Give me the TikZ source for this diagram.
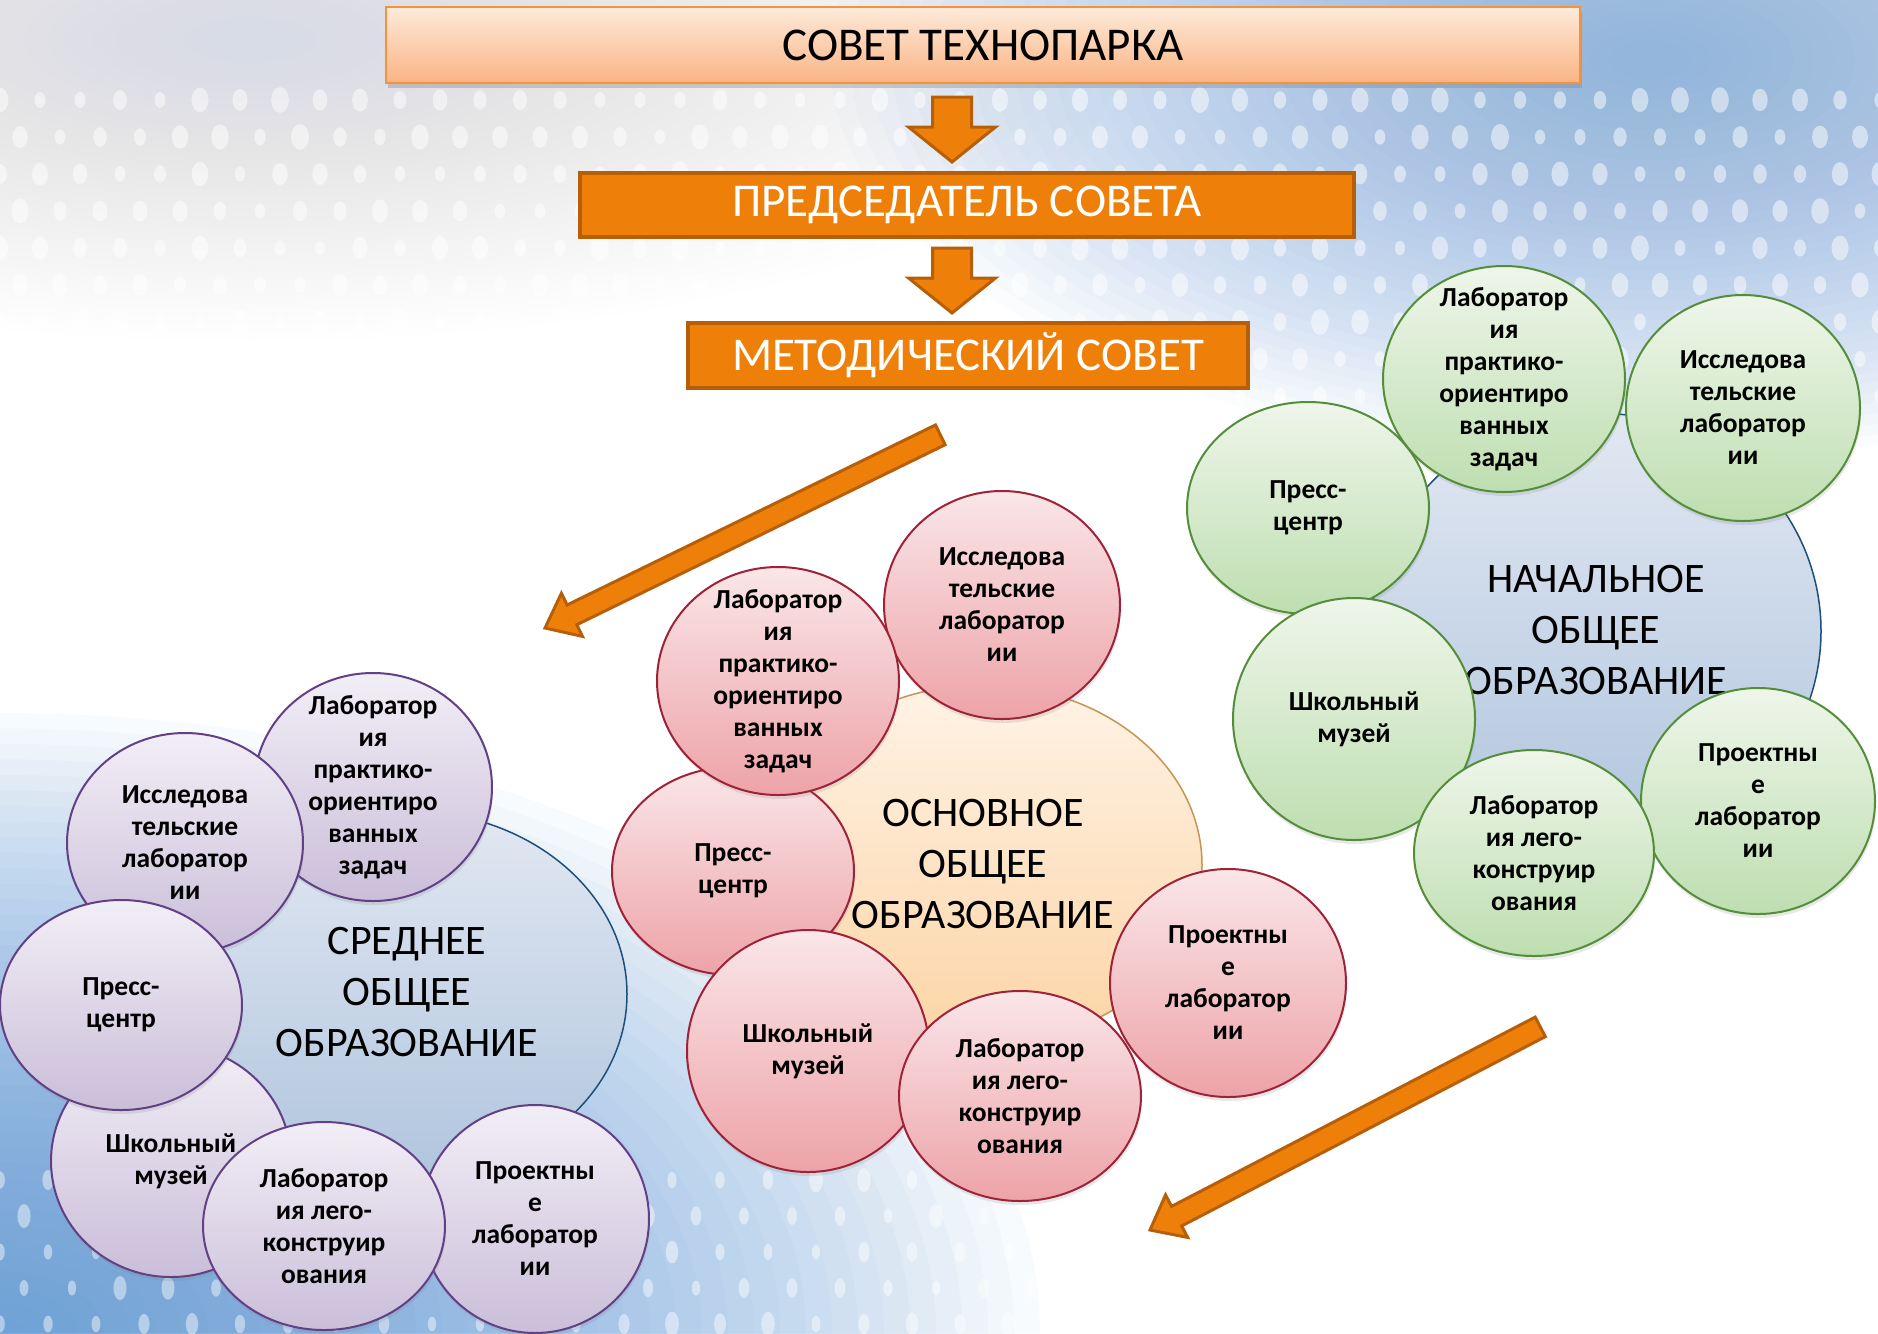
\documentclass[tikz,border=0pt]{standalone}
\usepackage{fontspec}
\setmainfont{Carlito}
\usetikzlibrary{shapes.geometric,shadows}
\definecolor{orF}{RGB}{238,128,10}
\definecolor{orD}{RGB}{182,94,8}
\definecolor{topT}{RGB}{253,234,218}
\definecolor{topB}{RGB}{250,180,132}
\definecolor{topD}{RGB}{246,145,60}
\definecolor{puT}{RGB}{242,238,246}
\definecolor{puB}{RGB}{202,190,217}
\definecolor{puD}{RGB}{98,64,134}
\definecolor{piT}{RGB}{250,230,232}
\definecolor{piB}{RGB}{237,163,168}
\definecolor{piD}{RGB}{160,34,56}
\definecolor{grT}{RGB}{238,246,234}
\definecolor{grB}{RGB}{190,222,176}
\definecolor{grD}{RGB}{84,142,58}
\definecolor{blT}{RGB}{226,232,242}
\definecolor{blB}{RGB}{176,197,222}
\definecolor{blD}{RGB}{30,78,122}
\definecolor{peT}{RGB}{255,243,230}
\definecolor{peB}{RGB}{252,212,165}
\definecolor{peD}{RGB}{196,150,82}
\definecolor{bgA}{RGB}{122,166,220}
\definecolor{bgG}{RGB}{205,220,230}
\definecolor{bgL}{RGB}{80,145,215}
\tikzset{
  bub/.style={ellipse, inner sep=0pt, line width=2pt,
    drop shadow={opacity=0.18, shadow xshift=1pt, shadow yshift=-4pt}},
  pu/.style={bub, draw=puD, top color=puT, bottom color=puB},
  pi/.style={bub, draw=piD, top color=piT, bottom color=piB},
  gr/.style={bub, draw=grD, top color=grT, bottom color=grB},
  bigbl/.style={ellipse, inner sep=0pt, line width=1.5pt, draw=blD, top color=blT, bottom color=blB},
  bigpe/.style={ellipse, inner sep=0pt, line width=1.5pt, draw=peD, top color=peT, bottom color=peB},
  bt/.style={align=center, inner sep=0pt, font=\fontsize{27.5}{32}\selectfont\bfseries},
  gt/.style={align=center, inner sep=0pt, font=\fontsize{42}{51}\selectfont},
  topbox/.style={rectangle, inner sep=0pt, draw=topD, line width=2.5pt, top color=topT, bottom color=topB,
    font=\fontsize{47}{56}\selectfont,
    drop shadow={opacity=0.35, shadow xshift=2pt, shadow yshift=-5pt}},
  obox/.style={rectangle, inner sep=0pt, fill=orF, draw=orD, line width=4pt, text=white,
    font=\fontsize{47}{56}\selectfont},
  barrow/.style={fill=orF, draw=orD, line width=3pt, line join=miter},
}
\begin{document}
\begin{tikzpicture}[x=1pt, y=-1pt]
\useasboundingbox (0,0) rectangle (1878,1333);
% background: soft blobs built from stacked translucent ellipses
\fill[white] (0,0) rectangle (1878,1333);
\foreach \k in {1,...,40}{
  \fill[bgG, opacity=0.016] (250,40) ellipse ({22.5*\k} and {7.5*\k});
  \fill[bgA, opacity=0.03] (1650,60) ellipse ({20.5*\k} and {10*\k});
  \fill[bgL, opacity=0.035] (0,1333) ellipse ({26*\k} and {15.5*\k});
}
\pgfmathsetseed{7}
\foreach \r in {0,...,8}{\foreach \c in {0,...,47}{
  \pgfmathsetmacro\xx{\c*40+mod(\r,2)*20}
  \pgfmathsetmacro\yy{100+\r*37}
  \pgfmathsetmacro\aa{5+4*rnd}
  \fill[white,opacity=0.5] (\xx,\yy) ellipse ({\aa} and {\aa*1.45});
}}
\foreach \r in {0,...,4}{\foreach \c in {0,...,28}{
  \pgfmathsetmacro\xx{\c*48+mod(\r,2)*24}
  \pgfmathsetmacro\yy{1180+\r*36}
  \pgfmathsetmacro\aa{4+3*rnd}
  \fill[white,opacity=0.45] (\xx,\yy) ellipse ({\aa} and {\aa*1.8});
}}
% top hierarchy
\node[topbox, minimum width=1194pt, minimum height=76pt] (sovet) at (983,45) {СОВЕТ ТЕХНОПАРКА};
\node[obox, minimum width=774pt, minimum height=64pt] (pred) at (967,205) {ПРЕДСЕДАТЕЛЬ СОВЕТА};
\node[obox, minimum width=560pt, minimum height=65pt] (metod) at (968,355.5) {МЕТОДИЧЕСКИЙ СОВЕТ};
\coordinate (d1) at (952,97);
\coordinate (d2) at (952,248);
\draw[barrow] (d1) ++(-19.5,0) -- ++(39,0) -- ++(0,30) -- ++(24,0) -- ++(-43.5,35) -- ++(-43.5,-35) -- ++(24,0) -- cycle;
\draw[barrow] (d2) ++(-19.5,0) -- ++(39,0) -- ++(0,30) -- ++(24,0) -- ++(-43.5,35) -- ++(-43.5,-35) -- ++(24,0) -- cycle;
% diagonal arrows
\coordinate (t1) at (545,628);
\coordinate (t2) at (1150,1230);
\begin{scope}[shift={(t1)}, rotate=26.04]
\draw[barrow] (0,0) -- (30,24) -- (30,11) -- (440,11) -- (440,-11) -- (30,-11) -- (30,-24) -- cycle;
\end{scope}
\begin{scope}[shift={(t2)}, rotate=27.5]
\draw[barrow] (0,0) -- (30,24) -- (30,11) -- (440,11) -- (440,-11) -- (30,-11) -- (30,-24) -- cycle;
\end{scope}
% ===== left cluster =====
\node[bigbl, minimum width=438pt, minimum height=366pt] (L0) at (408,994) {};
\node[gt] (L0t) at (407,992) {СРЕДНЕЕ\\ОБЩЕЕ\\ОБРАЗОВАНИЕ};
\node[pu, minimum width=238pt, minimum height=228pt] (L1) at (373,787) {};
\node[bt] at (L1) {Лаборатор\\ия\\практико-\\ориентиро\\ванных\\задач};
\node[pu, minimum width=236pt, minimum height=220pt] (L2) at (185,843) {};
\node[bt] at (L2) {Исследова\\тельские\\лаборатор\\ии};
\node[pu, minimum width=240pt, minimum height=232pt] (L4) at (171,1161) {};
\node[bt] at (L4) {Школьный\\музей};
\node[pu, minimum width=242pt, minimum height=210pt] (L3) at (121,1005) {};
\node[bt] at (L3) {Пресс-\\центр};
\node[pu, minimum width=228pt, minimum height=228pt] (L6) at (535,1219) {};
\node[bt] at (L6) {Проектны\\е\\лаборатор\\ии};
\node[pu, minimum width=242pt, minimum height=208pt] (L5) at (324,1226) {};
\node[bt] at (L5) {Лаборатор\\ия лего-\\конструир\\ования};
% ===== middle cluster =====
\node[bigpe, minimum width=438pt, minimum height=360pt] (M0) at (983,865) {};
\node[gt] (M0t) at (983,864) {ОСНОВНОЕ\\ОБЩЕЕ\\ОБРАЗОВАНИЕ};
\node[pi, minimum width=236pt, minimum height=228pt] (M1) at (1002,605) {};
\node[bt] at (M1) {Исследова\\тельские\\лаборатор\\ии};
\node[pi, minimum width=242pt, minimum height=208pt] (M3) at (733,871) {};
\node[bt] at (M3) {Пресс-\\центр};
\node[pi, minimum width=242pt, minimum height=228pt] (M2) at (778,681) {};
\node[bt] at (M2) {Лаборатор\\ия\\практико-\\ориентиро\\ванных\\задач};
\node[pi, minimum width=242pt, minimum height=242pt] (M4) at (808,1051) {};
\node[bt] at (M4) {Школьный\\музей};
\node[pi, minimum width=236pt, minimum height=228pt] (M6) at (1228,983) {};
\node[bt] at (M6) {Проектны\\е\\лаборатор\\ии};
\node[pi, minimum width=242pt, minimum height=210pt] (M5) at (1020,1096) {};
\node[bt] at (M5) {Лаборатор\\ия лего-\\конструир\\ования};
% ===== right cluster =====
\node[bigbl, minimum width=450pt, minimum height=436pt] (R0) at (1596,631) {};
\node[gt] (R0t) at (1596,630) {НАЧАЛЬНОЕ\\ОБЩЕЕ\\ОБРАЗОВАНИЕ};
\node[gr, minimum width=242pt, minimum height=212pt] (R3) at (1308,508) {};
\node[bt] at (R3) {Пресс-\\центр};
\node[gr, minimum width=242pt, minimum height=226pt] (R1) at (1504,379) {};
\node[bt] at (R1) {Лаборатор\\ия\\практико-\\ориентиро\\ванных\\задач};
\node[gr, minimum width=234pt, minimum height=226pt] (R2) at (1743,408) {};
\node[bt] at (R2) {Исследова\\тельские\\лаборатор\\ии};
\node[gr, minimum width=242pt, minimum height=242pt] (R4) at (1354,719) {};
\node[bt] at (R4) {Школьный\\музей};
\node[gr, minimum width=234pt, minimum height=226pt] (R6) at (1758,801) {};
\node[bt] at (R6) {Проектны\\е\\лаборатор\\ии};
\node[gr, minimum width=240pt, minimum height=206pt] (R5) at (1534,853) {};
\node[bt] at (R5) {Лаборатор\\ия лего-\\конструир\\ования};
\end{tikzpicture}
\end{document}
